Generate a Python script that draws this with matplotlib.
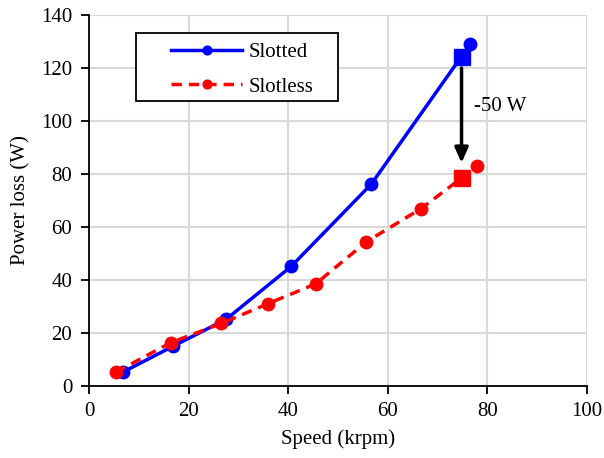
import matplotlib.pyplot as plt
from matplotlib.patches import Rectangle

plt.rcParams['font.family'] = ['Liberation Serif', 'DejaVu Serif']

# data
slotted_speed = [6.8, 16.8, 27.5, 40.6, 56.7, 76.5]
slotted_loss = [5.1, 14.8, 25.0, 45.0, 76.1, 128.8]
slotless_speed = [5.4, 16.4, 26.6, 35.9, 45.5, 55.7, 66.6, 78.0]
slotless_loss = [5.1, 16.2, 23.5, 30.9, 38.4, 54.3, 66.7, 82.9]
op_speed = 74.8
op_slotted = 123.9
op_slotless = 78.5

fig = plt.figure(figsize=(6.04, 4.58), dpi=100)
ax = fig.add_axes([0.1474, 0.158, 0.8245, 0.81])

ax.plot(slotted_speed, slotted_loss, color='#0000ff', lw=2.5, marker='o', ms=9,
        label='Slotted', zorder=3)
ax.plot(slotless_speed, slotless_loss, color='#ff0000', lw=2.5, ls=(0, (3, 2)),
        marker='o', ms=9, label='Slotless', zorder=4)
ax.plot([op_speed], [op_slotted], marker='s', ms=11, color='#0000ff', ls='none', zorder=5)
ax.plot([op_speed], [op_slotless], marker='s', ms=11, color='#ff0000', ls='none', zorder=5)

ax.annotate('', xy=(op_speed, op_slotless + 4.5), xytext=(op_speed, op_slotted - 3),
            arrowprops=dict(arrowstyle='-|>,head_width=0.4,head_length=0.9',
                            color='black', lw=2.5), zorder=6)
ax.text(77.3, 105.5, '-50 W', fontsize=15, va='center', ha='left')

ax.set_xlim(0, 100)
ax.set_ylim(0, 140)
ax.set_xticks(range(0, 101, 20))
ax.set_yticks(range(0, 141, 20))
ax.grid(True, color='#d9d9d9', lw=1.5)
ax.set_axisbelow(True)
for s in ['top', 'right']:
    ax.spines[s].set_visible(False)
for s in ['left', 'bottom']:
    ax.spines[s].set_linewidth(1.3)
ax.tick_params(direction='out', length=6, width=1.3, labelsize=15, pad=6)
ax.set_xlabel('Speed (krpm)', fontsize=15, labelpad=6)
ax.set_ylabel('Power loss (W)', fontsize=15, labelpad=8)

# legend: frameless, with a separate box drawn like the reference
leg = ax.legend(loc='upper left', bbox_to_anchor=(0.165, 0.924), fontsize=15,
                frameon=False, handlelength=3.4, handletextpad=0.3,
                borderpad=0, borderaxespad=0, labelspacing=0.7, markerscale=0.7)
ax.add_patch(Rectangle((0.0944, 0.7674), 0.4056, 0.1833, transform=ax.transAxes,
                       facecolor='white', edgecolor='black', lw=1.3, zorder=6))
leg.set_zorder(7)

fig.savefig('out.png', dpi=100)
